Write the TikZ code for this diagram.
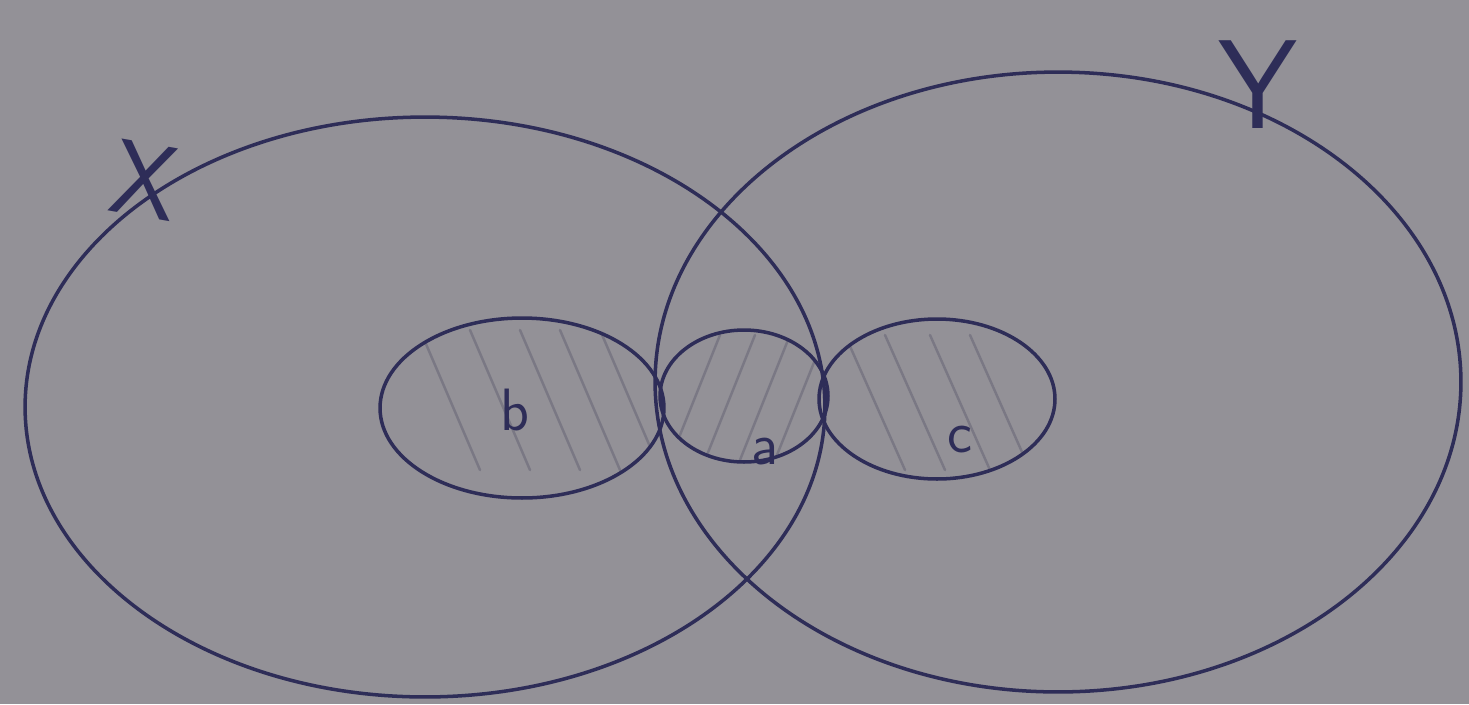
\documentclass[tikz,border=0pt]{standalone}
\usetikzlibrary{shapes.geometric}
\definecolor{paper}{RGB}{147,145,151}
\definecolor{ink}{RGB}{46,45,88}
\definecolor{hatch}{RGB}{122,120,132}
\tikzset{
  setline/.style={draw=ink, line width=2pt, ellipse, inner sep=0pt},
  lbl/.style={text=ink, font=\sffamily\fontsize{34}{34}\selectfont, inner sep=0pt},
  hatchline/.style={draw=hatch, line width=1.4pt, line cap=round}
}
\begin{document}
\begin{tikzpicture}[x=0.02cm,y=-0.02cm]
\useasboundingbox[fill=paper] (0,0) rectangle (1469,704);
% hatching
\begin{scope}
  \clip (522,408) ellipse [x radius=142, y radius=90];
  \foreach \s in {420,470,520,560,600} {\draw[hatchline] (\s,330) -- (\s+60,470);}
\end{scope}
\begin{scope}
  \clip (744,396) ellipse [x radius=84, y radius=66];
  \foreach \s in {670,705,740,775} {\draw[hatchline] (\s+50,335) -- (\s,460);}
\end{scope}
\begin{scope}
  \clip (937,399) ellipse [x radius=118, y radius=80];
  \foreach \s in {845,885,930,970} {\draw[hatchline] (\s,335) -- (\s+60,470);}
\end{scope}
% sets
\node[setline, minimum width=16cm, minimum height=11.6cm] (X) at (425,407) {};
\node[setline, minimum width=16.12cm, minimum height=12.4cm] (Y) at (1058,382) {};
\node[setline, minimum width=5.68cm, minimum height=3.6cm] (B) at (522,408) {};
\node[setline, minimum width=3.36cm, minimum height=2.64cm] (A) at (744,396) {};
\node[setline, minimum width=4.72cm, minimum height=3.2cm] (C) at (937,399) {};
% labels
\node[lbl, font=\sffamily\fontsize{60}{60}\selectfont, rotate=-10] (lX) at (145,180) {X};
\node[lbl, font=\sffamily\fontsize{72}{72}\selectfont] (lY) at (1258,85) {Y};
\node[lbl] (lb) at (515,410) {b};
\node[lbl] (la) at (765,452) {a};
\node[lbl] (lc) at (960,440) {c};
\end{tikzpicture}
\end{document}
